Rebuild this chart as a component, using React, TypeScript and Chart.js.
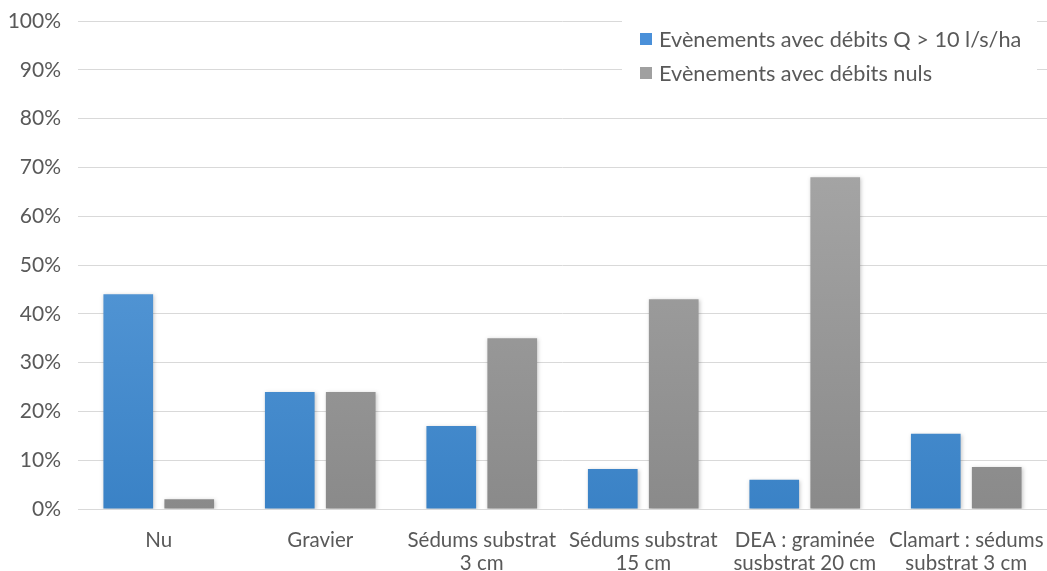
import React, { useEffect, useRef } from "react";
import { Chart, registerables } from "chart.js";

Chart.register(...registerables);

const categories: (string | string[])[] = [
  "Nu",
  "Gravier",
  ["Sédums substrat", "3 cm"],
  ["Sédums substrat", "15 cm"],
  ["DEA : graminée", "susbstrat 20 cm"],
  ["Clamart : sédums", "substrat 3 cm"],
];
const seriesNames = ["Evènements avec débits Q > 10 l/s/ha", "Evènements avec débits nuls"];
const debitsQ = [44, 24, 17, 8.2, 6, 15.4];
const debitsNuls = [2, 24, 35, 43, 68, 8.6];
const yTicks = [0, 10, 20, 30, 40, 50, 60, 70, 80, 90, 100];

const FONT = "Lato, 'Open Sans', sans-serif";
const TEXT = "#595959";

function gradient(chart: any, top: string, bottom: string, fallback: string) {
  const area = chart.chartArea;
  if (!area) return fallback;
  const g = chart.ctx.createLinearGradient(0, area.top, 0, area.bottom);
  g.addColorStop(0, top);
  g.addColorStop(1, bottom);
  return g;
}

const shadowPlugin = {
  id: "barShadow",
  beforeDatasetsDraw(chart: any) {
    const ctx = chart.ctx;
    ctx.save();
    ctx.shadowColor = "rgba(0,0,0,0.22)";
    ctx.shadowBlur = 4;
    ctx.shadowOffsetX = 1;
    ctx.shadowOffsetY = 1;
  },
  afterDatasetsDraw(chart: any) {
    chart.ctx.restore();
  },
};

const legendPlugin = {
  id: "insideLegend",
  afterDraw(chart: any) {
    const ctx = chart.ctx;
    ctx.save();
    ctx.shadowColor = "transparent";
    ctx.fillStyle = "#ffffff";
    ctx.fillRect(622, 14, 415, 82);
    ctx.font = `21.7px ${FONT}`;
    ctx.textBaseline = "middle";
    const colors = ["#4A90D9", "#A0A0A0"];
    chart.data.datasets.forEach((ds: any, i: number) => {
      const cy = 39 + i * 34;
      ctx.fillStyle = colors[i];
      ctx.fillRect(640, cy - 6, 12, 12);
      ctx.fillStyle = TEXT;
      ctx.textAlign = "left";
      ctx.fillText(ds.label, 659, cy + 1);
    });
    ctx.restore();
  },
};

export default function App() {
  const ref = useRef<HTMLCanvasElement | null>(null);
  useEffect(() => {
    document.body.style.margin = "0";
    const chart = new Chart(ref.current as HTMLCanvasElement, {
      type: "bar",
      data: {
        labels: categories,
        datasets: [
          {
            label: seriesNames[0],
            data: debitsQ,
            backgroundColor: (c: any) => gradient(c.chart, "#6BA9E3", "#3A82C6", "#4A90D9"),
          },
          {
            label: seriesNames[1],
            data: debitsNuls,
            backgroundColor: (c: any) => gradient(c.chart, "#B0B0B0", "#8A8A8A", "#A0A0A0"),
          },
        ],
      },
      options: {
        animation: false,
        responsive: false,
        layout: { padding: { top: 21, right: 0, left: 0, bottom: 0 } },
        datasets: { bar: { categoryPercentage: 0.755, barPercentage: 0.815 } },
        plugins: { legend: { display: false }, tooltip: { enabled: false } },
        scales: {
          x: {
            grid: { display: false },
            border: { display: false },
            ticks: {
              color: TEXT,
              font: { family: FONT, size: 20.5, lineHeight: 1.12 },
              maxRotation: 0,
              autoSkip: false,
              padding: 12,
            },
            afterFit: (s: any) => {
              s.height = 62;
              s.paddingLeft = 0;
              s.paddingRight = 0;
            },
          },
          y: {
            min: 0,
            max: 100,
            afterBuildTicks: (s: any) => { s.ticks = yTicks.map((v) => ({ value: v })); },
            grid: { color: "#D9D9D9", lineWidth: 1, drawTicks: false },
            border: { display: false },
            ticks: {
              color: TEXT,
              font: { family: FONT, size: 21 },
              padding: 17,
              callback: (v: any) => `${v}%`,
            },
            afterFit: (s: any) => {
              s.width = 78;
              s.paddingTop = 0;
              s.paddingBottom = 0;
            },
          },
        },
      },
      plugins: [shadowPlugin, legendPlugin],
    } as any);
    return () => chart.destroy();
  }, []);
  return (
    <div style={{ width: 1047, height: 571 }}>
      <canvas ref={ref} width={1047} height={571} style={{ width: 1047, height: 571 }} />
    </div>
  );
}
